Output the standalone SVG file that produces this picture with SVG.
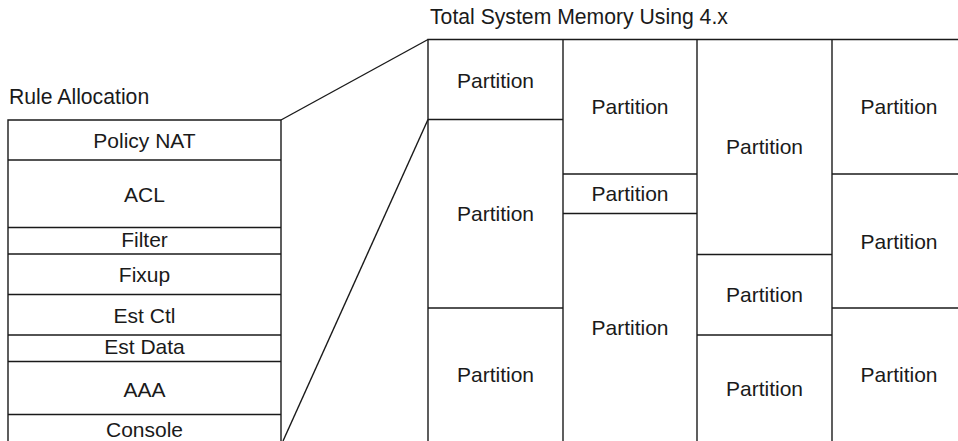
<svg xmlns="http://www.w3.org/2000/svg" width="958" height="441" viewBox="0 0 958 441">
<style>
  .ln { stroke: #1a1a1a; stroke-width: 1.4; fill: none; }
  .t { font-family: "Liberation Sans", Arial, sans-serif; font-size: 21px; fill: #1a1a1a; text-anchor: middle; }
  .title { font-family: "Liberation Sans", Arial, sans-serif; font-size: 21.2px; fill: #1a1a1a; }
</style>
<rect width="958" height="441" fill="#ffffff"/>
<text class="title" x="9" y="104">Rule Allocation</text>
<text class="title" x="430" y="24">Total System Memory Using 4.x</text>

<g id="rule-allocation">
  <path class="ln" d="M8,441 V120 H281 V441"/>
  <g id="policy-nat"><text class="t" x="144.5" y="148">Policy NAT</text></g>
  <line class="ln" x1="8" y1="160" x2="281" y2="160"/>
  <g id="acl"><text class="t" x="144.5" y="201.5">ACL</text></g>
  <line class="ln" x1="8" y1="227.5" x2="281" y2="227.5"/>
  <g id="filter"><text class="t" x="144.5" y="247">Filter</text></g>
  <line class="ln" x1="8" y1="254" x2="281" y2="254"/>
  <g id="fixup"><text class="t" x="144.5" y="281.5">Fixup</text></g>
  <line class="ln" x1="8" y1="294.5" x2="281" y2="294.5"/>
  <g id="est-ctl"><text class="t" x="144.5" y="322.5">Est Ctl</text></g>
  <line class="ln" x1="8" y1="335" x2="281" y2="335"/>
  <g id="est-data"><text class="t" x="144.5" y="353.5">Est Data</text></g>
  <line class="ln" x1="8" y1="361.5" x2="281" y2="361.5"/>
  <g id="aaa"><text class="t" x="144.5" y="396.5">AAA</text></g>
  <line class="ln" x1="8" y1="414.5" x2="281" y2="414.5"/>
  <g id="console"><text class="t" x="144.5" y="436.5">Console</text></g>
</g>

<g id="memory">
  <path class="ln" d="M428,441 V39.5 H958"/>
  <line class="ln" x1="563" y1="39.5" x2="563" y2="441"/>
  <line class="ln" x1="697" y1="39.5" x2="697" y2="441"/>
  <line class="ln" x1="832" y1="39.5" x2="832" y2="441"/>
  <line class="ln" x1="428" y1="119.5" x2="563" y2="119.5"/>
  <line class="ln" x1="428" y1="308" x2="563" y2="308"/>
  <line class="ln" x1="563" y1="174" x2="697" y2="174"/>
  <line class="ln" x1="563" y1="213.5" x2="697" y2="213.5"/>
  <line class="ln" x1="697" y1="254.5" x2="832" y2="254.5"/>
  <line class="ln" x1="697" y1="335" x2="832" y2="335"/>
  <line class="ln" x1="832" y1="174" x2="958" y2="174"/>
  <line class="ln" x1="832" y1="308" x2="958" y2="308"/>
  <g id="p1"><text class="t" x="495.5" y="87.5">Partition</text></g>
  <g id="p2"><text class="t" x="495.5" y="221">Partition</text></g>
  <g id="p3"><text class="t" x="495.5" y="381.5">Partition</text></g>
  <g id="p4"><text class="t" x="630" y="114">Partition</text></g>
  <g id="p5"><text class="t" x="630" y="200.5">Partition</text></g>
  <g id="p6"><text class="t" x="630" y="335">Partition</text></g>
  <g id="p7"><text class="t" x="764.5" y="154">Partition</text></g>
  <g id="p8"><text class="t" x="764.5" y="301.5">Partition</text></g>
  <g id="p9"><text class="t" x="764.5" y="395.5">Partition</text></g>
  <g id="p10"><text class="t" x="899" y="114">Partition</text></g>
  <g id="p11"><text class="t" x="899" y="248.5">Partition</text></g>
  <g id="p12"><text class="t" x="899" y="381.5">Partition</text></g>
</g>

<g id="connectors">
  <line class="ln" x1="281" y1="120" x2="428" y2="39.5"/>
  <line class="ln" x1="283" y1="441" x2="428" y2="119.5"/>
</g>
</svg>
